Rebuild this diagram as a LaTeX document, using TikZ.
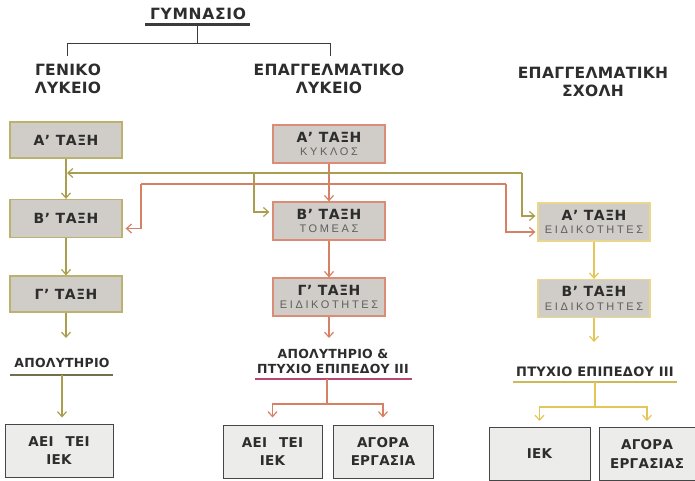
\documentclass[tikz,border=0pt]{standalone}
\usepackage{fontspec}
\setmainfont{Liberation Sans}
\newfontfamily\hdrf{DejaVu Sans}[LetterSpace=2]
\newfontfamily\gymf{DejaVu Sans}[LetterSpace=4.5]
\newfontfamily\lblf{DejaVu Sans}[LetterSpace=4]
\newfontfamily\certf{DejaVu Sans}[LetterSpace=2]
\newfontfamily\subf{Liberation Sans}[LetterSpace=24]
\usetikzlibrary{arrows.meta}
\definecolor{txt}{RGB}{45,45,45}
\definecolor{subc}{RGB}{95,95,95}
\definecolor{olv}{RGB}{168,158,78}
\definecolor{sal}{RGB}{214,128,100}
\definecolor{yel}{RGB}{228,198,88}
\definecolor{boxfill}{RGB}{208,204,199}
\definecolor{glb}{RGB}{188,178,112}
\definecolor{epb}{RGB}{218,140,118}
\definecolor{esb}{RGB}{234,214,140}
\definecolor{lowfill}{RGB}{236,236,234}
\definecolor{lowb}{RGB}{70,70,70}
\definecolor{treec}{RGB}{60,60,60}
\definecolor{ulgl}{RGB}{115,110,75}
\definecolor{ulep}{RGB}{185,70,115}
\definecolor{ules}{RGB}{205,185,90}
\tikzset{
  hdr/.style={font=\hdrf\bfseries\fontsize{15.5}{17.5}\selectfont, text=txt, align=center, inner sep=0pt},
  classbox/.style={minimum width=112pt, minimum height=38pt, fill=boxfill, line width=1.3pt, align=center, inner sep=0pt, text=txt, font=\lblf\bfseries\fontsize{14}{15.5}\selectfont},
  glbox/.style={classbox, draw=glb, minimum height=36pt},
  epbox/.style={classbox, draw=epb},
  esbox/.style={classbox, draw=esb},
  lowbox/.style={draw=lowb, fill=lowfill, line width=1pt, minimum height=53pt, align=center, inner sep=0pt, text=txt, font=\certf\bfseries\fontsize{13.5}{15.5}\selectfont},
  cert/.style={font=\certf\bfseries\fontsize{12.5}{15}\selectfont, text=txt, align=center, inner sep=0pt},
  tree/.style={draw=treec, line width=1pt},
  arr/.style={line width=1.2pt, -{Straight Barb[length=5pt,width=9pt,line width=1.2pt]}},
  glarr/.style={arr, draw=olv},
  eparr/.style={arr, draw=sal},
  esarr/.style={arr, draw=yel},
  gline/.style={draw=olv, line width=1.2pt},
  rline/.style={draw=sal, line width=1.2pt},
  yline/.style={draw=yel, line width=1.2pt},
}
\newcommand{\sublbl}[1]{{\subf\mdseries\fontsize{11}{12}\selectfont\color{subc}#1}}
\begin{document}
\begin{tikzpicture}[x=1pt,y=-1pt]
\useasboundingbox (0,0) rectangle (695,481);
\fill[white] (0,0) rectangle (695,481);

% headers
\node[hdr, font=\gymf\bfseries\fontsize{15.5}{17.5}\selectfont] (gym) at (198,14) {ΓΥΜΝΑΣΙΟ};
\coordinate (gymL) at (145,25);
\coordinate (gymR) at (250,25);
\draw[treec, line width=3pt] (gymL) -- (gymR);
\coordinate (gymB) at (197,26);
\coordinate (tj) at (197,44);
\coordinate (glTop) at (67,56);
\coordinate (epTop) at (330,56);
\draw[tree] (gymB) -- (tj);
\draw[tree] (glTop) -- (glTop |- tj) -- (epTop |- tj) -- (epTop);

\node[hdr] (glh) at (68,79) {ΓΕΝΙΚΟ\\ΛΥΚΕΙΟ};
\node[hdr] (eph) at (329,79) {ΕΠΑΓΓΕΛΜΑΤΙΚΟ\\ΛΥΚΕΙΟ};
\node[hdr] (esh) at (593,82) {ΕΠΑΓΓΕΛΜΑΤΙΚΗ\\ΣΧΟΛΗ};

% general lyceum
\node[glbox] (glA) at (66,140) {Α’ ΤΑΞΗ};
\node[glbox, minimum height=38pt] (glB) at (66,218.5) {Β’ ΤΑΞΗ};
\node[glbox] (glC) at (66,294) {Γ’ ΤΑΞΗ};
\coordinate (glCend) at (66,338);
\node[cert] (glcert) at (62,363) {ΑΠΟΛΥΤΗΡΙΟ};
\coordinate (glulL) at (10,375);
\coordinate (glulR) at (113,375);
\draw[draw=ulgl, line width=1.4pt] (glulL) -- (glulR);
\coordinate (glulC) at (62,375);
\node[lowbox, minimum width=108pt] (glD) at (59,450.5) {ΑΕΙ\hspace{7pt} ΤΕΙ\\[3pt]ΙΕΚ};
\draw[glarr] (glA) -- (glB);
\draw[glarr] (glB) -- (glC);
\draw[glarr] (glC) -- (glCend);
\draw[glarr, shorten >=6pt] (glulC) -- (glulC |- glD.north);

% vocational lyceum
\node[epbox] (epA) at (329,144) {Α’ ΤΑΞΗ\\[-2pt]\sublbl{ΚΥΚΛΟΣ}};
\node[epbox] (epB) at (329,221) {Β’ ΤΑΞΗ\\[-2pt]\sublbl{ΤΟΜΕΑΣ}};
\node[epbox] (epC) at (329,297) {Γ’ ΤΑΞΗ\\[-2pt]\sublbl{ΕΙΔΙΚΟΤΗΤΕΣ}};
\coordinate (epCend) at (329,338);
\node[cert] (epcert) at (333,361) {ΑΠΟΛΥΤΗΡΙΟ \&\\ΠΤΥΧΙΟ ΕΠΙΠΕΔΟΥ ΙΙΙ};
\coordinate (epulL) at (255,379);
\coordinate (epulR) at (412,379);
\draw[draw=ulep, line width=1.4pt] (epulL) -- (epulR);
\coordinate (epulC) at (327,379);
\coordinate (epsplit) at (327,404);
\node[lowbox, minimum width=99pt] (epD) at (272.5,451.5) {ΑΕΙ\hspace{7pt} ΤΕΙ\\[3pt]ΙΕΚ};
\node[lowbox, minimum width=100pt] (epE) at (383,451.5) {ΑΓΟΡΑ\\[3pt]ΕΡΓΑΣΙΑ};
\draw[eparr] (epA) -- (epB);
\draw[eparr] (epB) -- (epC);
\draw[eparr] (epC) -- (epCend);
\draw[rline] (epulC) -- (epsplit);
\draw[eparr, shorten >=7pt] (epsplit) -| (epD.north);
\draw[eparr, shorten >=7pt] (epsplit) -| (epE.north);

% vocational school
\node[esbox] (esA) at (594,222) {Α’ ΤΑΞΗ\\[-2pt]\sublbl{ΕΙΔΙΚΟΤΗΤΕΣ}};
\node[esbox] (esB) at (594,298.5) {Β’ ΤΑΞΗ\\[-2pt]\sublbl{ΕΙΔΙΚΟΤΗΤΕΣ}};
\coordinate (esBend) at (594,342);
\node[cert, font=\certf\bfseries\fontsize{13}{15}\selectfont] (escert) at (595,372) {ΠΤΥΧΙΟ ΕΠΙΠΕΔΟΥ ΙΙΙ};
\coordinate (esulL) at (513,382);
\coordinate (esulR) at (677,382);
\draw[draw=ules, line width=1.4pt] (esulL) -- (esulR);
\coordinate (esulC) at (595,382);
\coordinate (essplit) at (595,407);
\node[lowbox, minimum width=101pt] (esD) at (539.5,454) {ΙΕΚ};
\node[lowbox, minimum width=96pt] (esE) at (647,454) {ΑΓΟΡΑ\\[3pt]ΕΡΓΑΣΙΑΣ};
\draw[esarr] (esA) -- (esB);
\draw[esarr] (esB) -- (esBend);
\draw[yline] (esulC) -- (essplit);
\draw[esarr, shorten >=6pt] (essplit) -| (esD.north);
\draw[esarr, shorten >=6pt] (essplit) -| (esE.north);

% cross connections
\coordinate (ojL) at (67,173);
\coordinate (ojM) at (254,173);
\coordinate (ojR) at (522,173);
\draw[glarr] (ojR) -- (ojL);
\draw[glarr, shorten >=3pt] (ojM) |- ([yshift=9pt]epB.west);
\draw[glarr, shorten >=2pt] (ojR) |- ([yshift=6pt]esA.west);

\coordinate (rjL) at (141,184);
\coordinate (rjR) at (506,184);
\draw[rline] (rjL) -- (rjR);
\draw[eparr, shorten >=3pt] (rjL) |- ([yshift=-10pt]glB.east);
\draw[eparr, shorten >=2pt] (rjR) |- ([yshift=-10pt]esA.west);
\end{tikzpicture}
\end{document}
